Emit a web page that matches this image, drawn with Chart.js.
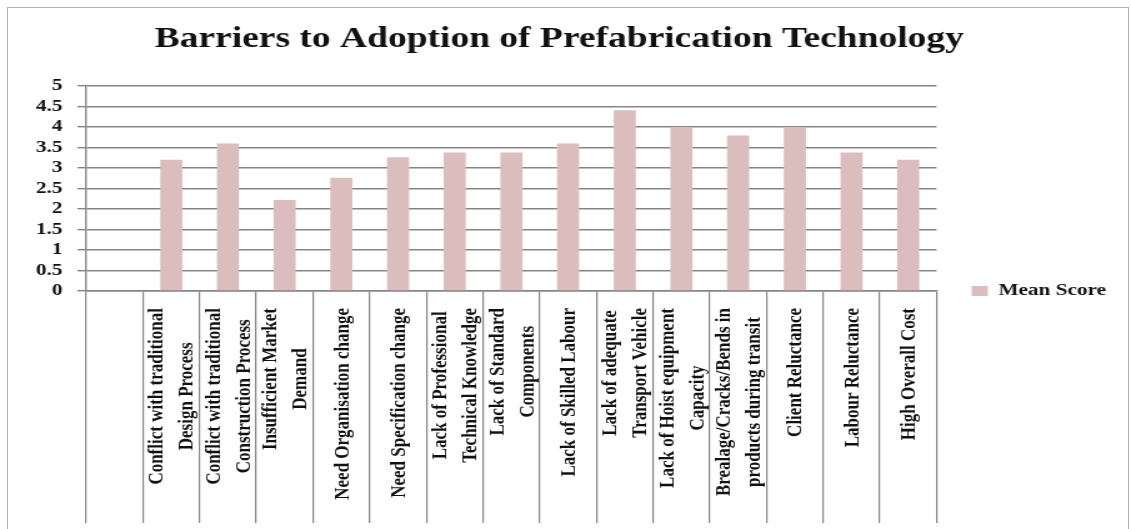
<!DOCTYPE html>
<html>
<head>
<meta charset="utf-8">
<script src="https://cdn.jsdelivr.net/npm/chart.js@4.4.1/dist/chart.umd.min.js"></script>
<style>
  html, body { margin: 0; padding: 0; background: #fff; overflow: hidden; }
  #frame {
    position: absolute; left: 7px; top: 7px; width: 1120px; height: 540px;
    border: 1px solid #b0b0b0;
  }
  /* the original picture is stretched sideways, so the whole chart is too */
  #wrap {
    position: absolute; left: 0; top: 0; width: 905px; height: 529px;
    transform: scaleX(1.2497); transform-origin: 0 0;
  }
</style>
</head>
<body>
<div id="frame"></div>
<div id="wrap"><canvas id="barriers" width="905" height="529"></canvas></div>
<script>
const title = 'Barriers to Adoption of Prefabrication Technology';
const seriesName = 'Mean Score';

// first slot is left empty in the original
const categories = [
  [''],
  ['Conflict with traditional', 'Design Process'],
  ['Conflict with traditional', 'Construction Process'],
  ['Insufficient Market', 'Demand'],
  ['Need Organisation change'],
  ['Need Specification change'],
  ['Lack of Professional', 'Technical Knowledge'],
  ['Lack of Standard', 'Components'],
  ['Lack of Skilled Labour'],
  ['Lack of adequate', 'Transport Vehicle'],
  ['Lack of Hoist equipment', 'Capacity'],
  ['Brealage/Cracks/Bends in', 'products during transit'],
  ['Client Reluctance'],
  ['Labour Reluctance'],
  ['High Overall Cost']
];
const meanScore = [null, 3.2, 3.6, 2.22, 2.76, 3.26, 3.38, 3.38, 3.6, 4.41, 4.0, 3.79, 4.0, 3.38, 3.2];

const yMin = 0;
const yMax = 5;
const yStep = 0.5;

const serif = '"Liberation Serif", "Times New Roman", serif';
const gridColor = '#858585';
const barColor = '#dcbdbd';

// rotated, wrapped category labels (lines centred on each other like Excel does)
const xLabels = {
  id: 'xLabels',
  afterDraw (chart) {
    const ctx = chart.ctx;
    const xScale = chart.scales.x;
    ctx.save();
    ctx.font = 'bold 17px ' + serif;
    ctx.fillStyle = '#111';
    ctx.textAlign = 'center';
    ctx.textBaseline = 'middle';
    categories.forEach((lines, i) => {
      const w = Math.max(...lines.map(l => ctx.measureText(l).width));
      const cy = xScale.top + 17 + w / 2;
      const cx = xScale.getPixelForTick(i) + 1;
      lines.forEach((line, k) => {
        ctx.save();
        ctx.translate(cx + (k - (lines.length - 1) / 2) * 24, cy);
        ctx.rotate(-Math.PI / 2);
        ctx.fillText(line, 0, 0);
        ctx.restore();
      });
    });
    ctx.restore();
  }
};

new Chart(document.getElementById('barriers'), {
  type: 'bar',
  data: {
    labels: categories,
    datasets: [{
      label: seriesName,
      data: meanScore,
      backgroundColor: barColor,
      borderWidth: 0,
      categoryPercentage: 1,
      barPercentage: 0.39
    }]
  },
  options: {
    responsive: false,
    animation: false,
    devicePixelRatio: 1,
    layout: { padding: { left: 0, right: 10, top: 0, bottom: 0 } },
    plugins: {
      title: {
        display: true,
        text: title,
        color: '#111',
        font: { family: serif, size: 30, weight: 'bold' },
        padding: { top: 21, bottom: 29 }
      },
      legend: {
        position: 'right',
        title: { display: true, text: ' ', font: { size: 44 }, padding: 0 },
        labels: {
          boxWidth: 13,
          boxHeight: 10,
          padding: 28,
          color: '#111',
          font: { family: serif, size: 17, weight: 'bold' }
        }
      },
      tooltip: { enabled: false }
    },
    scales: {
      x: {
        grid: {
          offset: true,
          drawOnChartArea: false,
          drawTicks: true,
          tickLength: 232,
          lineWidth: 1.2,
          color: gridColor
        },
        border: { display: true, color: gridColor, width: 1.4 },
        ticks: { display: false },
        afterFit (scale) { scale.height = 238; }
      },
      y: {
        min: yMin,
        max: yMax,
        grid: { color: gridColor, lineWidth: 1.4, tickLength: 7 },
        border: { display: true, color: gridColor, width: 1.4 },
        ticks: {
          stepSize: yStep,
          autoSkip: false,
          maxTicksLimit: 20,
          padding: 12,
          color: '#111',
          font: { family: serif, size: 17, weight: 'bold', lineHeight: 1 },
          callback: v => String(v)
        },
        afterFit (scale) { scale.width = 69; }
      }
    }
  },
  plugins: [xLabels]
});
</script>
</body>
</html>
